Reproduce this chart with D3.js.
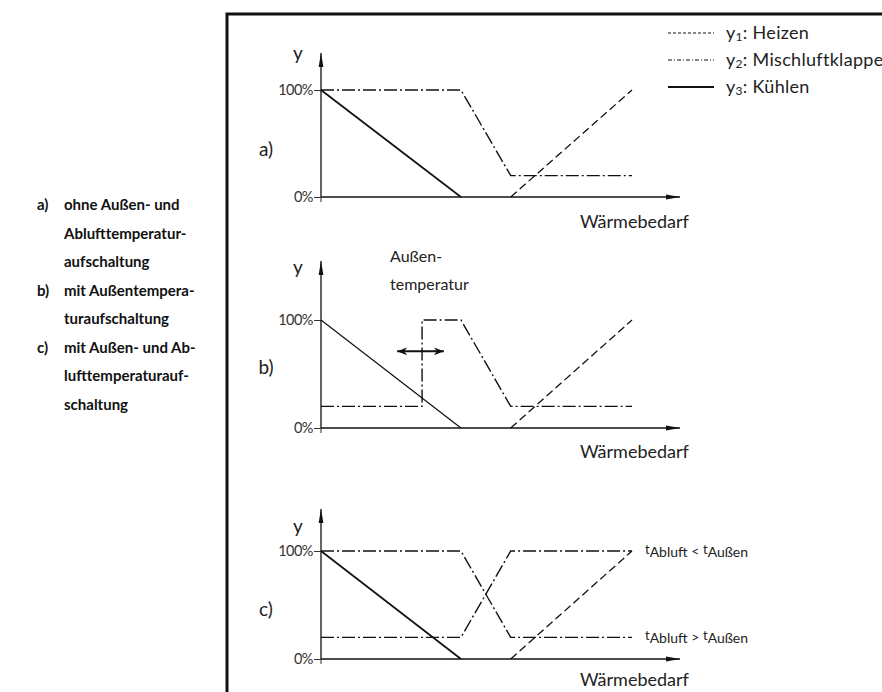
<!DOCTYPE html>
<html><head><meta charset="utf-8">
<script src="https://cdn.jsdelivr.net/npm/d3@7"></script>
<style>
html,body{margin:0;padding:0;background:#fff;}
svg{display:block;}
</style></head>
<body>
<svg id="chart" width="882" height="692"></svg>
<script>
// ---------- data ----------
const panelNames = ["a)", "b)", "c)"];
const yTickValues = [0, 100];
const xLabel = "Wärmebedarf";
const yLabel = "y";
// Heizen (y1)
const heizen = [[61, 0], [100, 100]];
// Kühlen (y3)
const kuehlen = [[0, 100], [45, 0]];
// Mischluftklappe (y2)
const mischA = [[0, 100], [45, 100], [61, 20], [100, 20]];
const mischB = [[0, 20], [32.5, 20], [32.5, 100], [45, 100], [61, 20], [100, 20]];
const mischC1 = [[0, 100], [45, 100], [61, 20], [100, 20]];
const mischC2 = [[0, 20], [45, 20], [61, 100], [100, 100]];
const shiftArrow = [24.5, 39.5]; // Außentemperatur shift range (x)
const shiftArrowY = 71;
const legendItems = ["y1: Heizen", "y2: Mischluftklappe", "y3: Kühlen"];
const leftNotes = [
  ["a)", ["ohne Außen- und", "Ablufttemperatur-", "aufschaltung"]],
  ["b)", ["mit Außentempera-", "turaufschaltung"]],
  ["c)", ["mit Außen- und Ab-", "lufttemperaturauf-", "schaltung"]]
];
const caseLabels = [[100, "<"], [20, ">"]];

// ---------- layout ----------
const svg = d3.select("#chart");
const FONT = "Lato, 'Open Sans', sans-serif";
const x = d3.scaleLinear().domain([0, 100]).range([321, 632]);
const xAxisEnd = 680;
const panels = [
  {name: panelNames[0], top: 90, bottom: 197, tip: 53, yLab: 55, nameY: 151, xl: 26, misch: [mischA]},
  {name: panelNames[1], top: 320, bottom: 428, tip: 261, yLab: 269, nameY: 369, xl: 25, misch: [mischB]},
  {name: panelNames[2], top: 551, bottom: 659, tip: 509, yLab: 528, nameY: 611, xl: 22, misch: [mischC1, mischC2]}
];

const defs = svg.append("defs");
defs.append("marker").attr("id", "arr").attr("viewBox", "0 0 14 6")
  .attr("refX", 14).attr("refY", 3).attr("markerWidth", 14).attr("markerHeight", 6)
  .attr("markerUnits", "userSpaceOnUse").attr("orient", "auto-start-reverse")
  .append("path").attr("d", "M0,0.6 L14,3 L0,5.4 Z").attr("fill", "#111");
defs.append("marker").attr("id", "arr2").attr("viewBox", "0 0 10 8")
  .attr("refX", 10).attr("refY", 4).attr("markerWidth", 10).attr("markerHeight", 8)
  .attr("markerUnits", "userSpaceOnUse").attr("orient", "auto-start-reverse")
  .append("path").attr("d", "M0,0 L10,4 L0,8 L3,4 Z").attr("fill", "#111");

// frame
svg.append("path").attr("d", "M227,692 L227,14 L882,14")
  .attr("fill", "none").attr("stroke", "#111").attr("stroke-width", 3);

const DASH_H = "8,4";
const DASH_M = "13,3,2,3";

panels.forEach((p, i) => {
  const y = d3.scaleLinear().domain([0, 100]).range([p.bottom, p.top]);
  const g = svg.append("g");
  const line = d3.line().x(d => x(d[0])).y(d => y(d[1]));

  // y axis ticks + labels
  const ax = d3.axisLeft(y).tickValues(yTickValues).tickFormat(d => d + "%")
    .tickSize(7).tickSizeOuter(0).tickPadding(1);
  const axG = g.append("g").attr("transform", `translate(${x(0)},0)`).call(ax);
  axG.select(".domain").remove();
  axG.selectAll("line").attr("stroke", "#333").attr("stroke-width", 1);
  axG.selectAll("text").attr("font-family", FONT).attr("font-size", 14.5)
    .attr("fill", "#333").attr("letter-spacing", "-0.5");
  g.append("line").attr("x1", x(0)).attr("x2", x(0)).attr("y1", y(0)).attr("y2", y(0) + 5)
    .attr("stroke", "#333").attr("stroke-width", 1);

  // axis lines with arrows
  g.append("line").attr("x1", x(0)).attr("y1", y(0)).attr("x2", x(0)).attr("y2", p.tip)
    .attr("stroke", "#111").attr("stroke-width", 1.3).attr("marker-end", "url(#arr)");
  g.append("line").attr("x1", x(0)).attr("y1", y(0)).attr("x2", xAxisEnd).attr("y2", y(0))
    .attr("stroke", "#111").attr("stroke-width", 1.3).attr("marker-end", "url(#arr)");

  // labels
  g.append("text").attr("x", 298).attr("y", p.yLab).attr("text-anchor", "middle")
    .attr("dominant-baseline", "middle").attr("font-family", FONT).attr("font-size", 19)
    .attr("fill", "#222").text(yLabel);
  g.append("text").attr("x", 266).attr("y", p.nameY).attr("text-anchor", "middle")
    .attr("dominant-baseline", "middle").attr("font-family", FONT).attr("font-size", 19)
    .attr("fill", "#222").text(p.name);
  g.append("text").attr("x", 580).attr("y", y(0) + p.xl).attr("dominant-baseline", "middle")
    .attr("font-family", FONT).attr("font-size", 18).attr("fill", "#222").text(xLabel);

  // series
  g.append("path").attr("d", line(kuehlen)).attr("fill", "none")
    .attr("stroke", "#111").attr("stroke-width", i === 1 ? 1.2 : 1.7);
  p.misch.forEach(m => {
    g.append("path").attr("d", line(m)).attr("fill", "none")
      .attr("stroke", "#111").attr("stroke-width", 1.4).attr("stroke-dasharray", DASH_M);
  });
  g.append("path").attr("d", line(heizen)).attr("fill", "none")
    .attr("stroke", "#111").attr("stroke-width", 1.3).attr("stroke-dasharray", DASH_H);

  if (i === 1) {
    g.append("line").attr("x1", x(shiftArrow[0])).attr("x2", x(shiftArrow[1]))
      .attr("y1", y(shiftArrowY)).attr("y2", y(shiftArrowY))
      .attr("stroke", "#111").attr("stroke-width", 2)
      .attr("marker-start", "url(#arr2)").attr("marker-end", "url(#arr2)");
    const t = g.append("text").attr("font-family", FONT).attr("font-size", 16).attr("fill", "#222");
    t.append("tspan").attr("x", 390).attr("y", 262).text("Außen-");
    t.append("tspan").attr("x", 390).attr("y", 290).text("temperatur");
  }
  if (i === 2) {
    caseLabels.forEach(([lv, op]) => {
      const t = g.append("text").attr("x", 645).attr("y", y(lv) + 3)
        .attr("font-family", FONT).attr("font-size", 14).attr("fill", "#222");
      t.append("tspan").attr("font-size", 13).text("t");
      t.append("tspan").attr("dy", 3).text("Abluft");
      t.append("tspan").attr("dy", -1).text(" " + op + " ");
      t.append("tspan").attr("dy", -2).attr("font-size", 13).text("t");
      t.append("tspan").attr("dy", 3).text("Außen");
    });
  }
});

// legend
const lg = svg.append("g");
const legendStyles = [
  {dash: "3,2", w: 1.2},
  {dash: "4,2,1,2", w: 1.2},
  {dash: null, w: 2}
];
legendItems.forEach((txt, k) => {
  const ly = 33 + k * 27;
  const l = lg.append("line").attr("x1", 668).attr("x2", 714).attr("y1", ly).attr("y2", ly)
    .attr("stroke", "#111").attr("stroke-width", legendStyles[k].w);
  if (legendStyles[k].dash) l.attr("stroke-dasharray", legendStyles[k].dash);
  const t = lg.append("text").attr("x", 726).attr("y", ly + 6)
    .attr("font-family", FONT).attr("font-size", 18).attr("letter-spacing", "0.3").attr("fill", "#222");
  t.append("tspan").text("y");
  t.append("tspan").attr("font-size", 12).attr("dy", 2).text(txt.slice(1, 2));
  t.append("tspan").attr("dy", -2).text(txt.slice(2));
});

// left notes
const notes = svg.append("g").attr("font-family", FONT).attr("font-size", 15)
  .attr("font-weight", 700).attr("fill", "#111");
let ny = 210;
leftNotes.forEach(([lab, lines]) => {
  notes.append("text").attr("x", 37).attr("y", ny).text(lab);
  lines.forEach((ln, j) => {
    notes.append("text").attr("x", 64).attr("y", ny + j * 28.5).text(ln);
  });
  ny += lines.length * 28.5;
});
</script>
</body></html>
